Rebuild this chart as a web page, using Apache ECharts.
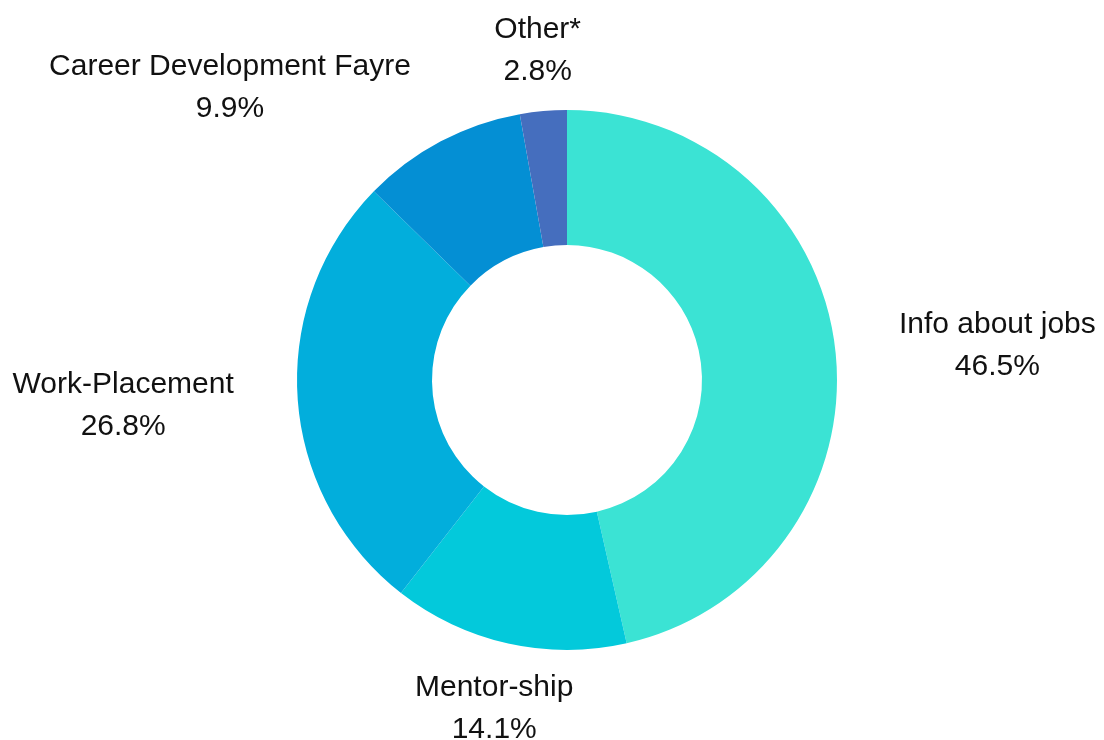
<!DOCTYPE html>
<html lang="en">
<head>
  <meta charset="utf-8">
  <title>Donut</title>
  <script src="https://cdn.jsdelivr.net/npm/echarts@6/dist/echarts.min.js"></script>
  <style>
    html, body { margin: 0; padding: 0; background: #fff; }
    #main { width: 1104px; height: 740px; }
  </style>
</head>
<body>
  <div id="main"></div>
  <script>
    var categories = ['Info about jobs', 'Mentor-ship', 'Work-Placement', 'Career Development Fayre', 'Other*'];
    var values = [46.5, 14.1, 26.8, 9.9, 2.8];
    var colors = ['#3be3d4', '#03c9db', '#02aedc', '#048fd4', '#456ebe'];

    var total = values.reduce(function (a, b) { return a + b; }, 0);

    // mid angle of each slice, clockwise from top
    function midAngle(i) {
      var before = 0;
      for (var k = 0; k < i; k++) before += values[k];
      return (before + values[i] / 2) / total * Math.PI * 2;
    }

    var myChart = echarts.init(document.getElementById('main'));
    var option = {
      animation: false,
      series: [{
        type: 'pie',
        center: [567, 380],
        radius: [135, 270],
        startAngle: 90,
        clockwise: true,
        avoidLabelOverlap: false,
        data: categories.map(function (name, i) {
          return { name: name, value: values[i], itemStyle: { color: colors[i] } };
        }),
        label: {
          show: true,
          position: 'outside',
          distanceToLabelLine: 0,
          padding: [6, 0, 0, 0],
          formatter: function (p) {
            return '{a|' + p.name + '}\n{a|' + p.value.toFixed(1) + '%}';
          },
          rich: {
            a: {
              fontFamily: "'Liberation Sans', Arial, sans-serif",
              fontSize: 30,
              lineHeight: 42,
              color: '#111',
              align: 'center'
            }
          }
        },
        labelLine: { show: false, length: 64, length2: 0 },
        labelLayout: function (params) {
          var s = Math.sin(midAngle(params.dataIndex));
          if (Math.abs(s) < 0.4) return { align: 'center' };
          return {};
        }
      }]
    };
    myChart.setOption(option);
  </script>
</body>
</html>
